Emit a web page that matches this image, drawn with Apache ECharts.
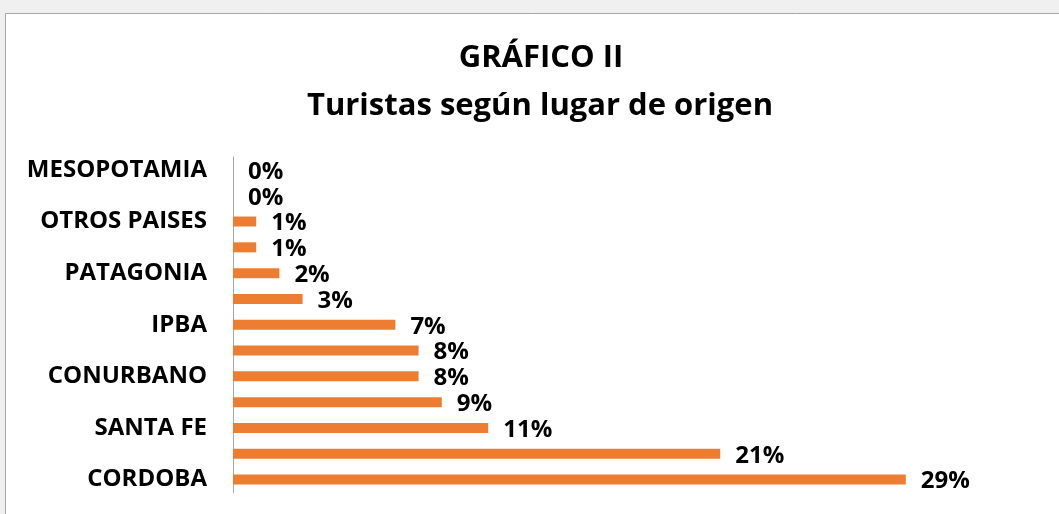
<!DOCTYPE html>
<html>
<head>
<meta charset="utf-8">
<script src="https://cdn.jsdelivr.net/npm/echarts@6/dist/echarts.min.js"></script>
<style>
  html, body { margin: 0; padding: 0; background: #f0f0f0; }
  #main { width: 1059px; height: 514px; }
</style>
</head>
<body>
<div id="main"></div>
<script>
// categorias de abajo hacia arriba (Excel oculta una de cada dos etiquetas)
var categorias = ['CORDOBA', '', 'SANTA FE', '', 'CONURBANO', '', 'IPBA', '', 'PATAGONIA', '', 'OTROS PAISES', '', 'MESOPOTAMIA'];
// porcentaje de turistas
var valores = [29, 21, 11, 9, 8, 8, 7, 3, 2, 1, 1, 0, 0];
var titulo1 = 'GRÁFICO II';
var titulo2 = 'Turistas según lugar de origen';

var fuente = '"Open Sans", sans-serif';
var myChart = echarts.init(document.getElementById('main'));

var option = {
    animation: false,
    graphic: [{
        type: 'rect',
        z: -10,
        shape: { x: 5.5, y: 13.5, width: 1100, height: 600 },
        style: { fill: '#ffffff', stroke: '#a6a6a6', lineWidth: 1 }
    }],
    title: [{
        text: titulo1,
        left: 541,
        top: 43,
        padding: 0,
        textAlign: 'center',
        textStyle: { fontFamily: fuente, fontSize: 31, fontWeight: 'bold', color: '#000' }
    }, {
        text: titulo2,
        left: 540,
        top: 91,
        padding: 0,
        textAlign: 'center',
        textStyle: { fontFamily: fuente, fontSize: 31, fontWeight: 'bold', color: '#000' }
    }],
    grid: {
        left: 233,
        right: 14,
        top: 157,
        bottom: 21.5,
        containLabel: false,
        outerBoundsMode: 'none'
    },
    xAxis: {
        type: 'value',
        min: 0,
        max: 35,
        show: false,
        splitLine: { show: false }
    },
    yAxis: {
        type: 'category',
        data: categorias,
        axisTick: { show: false },
        axisLine: { lineStyle: { color: '#a6a6a6', width: 1 } },
        axisLabel: {
            interval: 0,
            margin: 26,
            color: '#000',
            fontFamily: fuente,
            fontSize: 24,
            fontWeight: 'bold'
        }
    },
    series: [{
        type: 'bar',
        data: valores,
        barWidth: 10,
        itemStyle: { color: '#ed7d31' },
        label: {
            show: true,
            position: 'right',
            distance: 15,
            offset: [0, 2],
            formatter: '{c}%',
            color: '#000',
            fontFamily: fuente,
            fontSize: 24,
            fontWeight: 'bold'
        }
    }]
};
myChart.setOption(option);
</script>
</body>
</html>
